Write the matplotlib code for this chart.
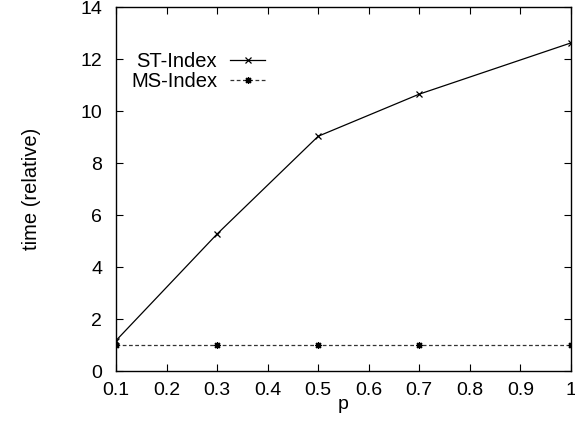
import matplotlib
matplotlib.use("Agg")
import matplotlib.pyplot as plt

p = [0.1, 0.3, 0.5, 0.7, 1.0]
st_index = [1.17, 5.27, 9.03, 10.65, 12.62]
ms_index = [1.0, 1.0, 1.0, 1.0, 1.0]
xticks = [0.1, 0.2, 0.3, 0.4, 0.5, 0.6, 0.7, 0.8, 0.9, 1.0]
xticklabels = ["0.1", "0.2", "0.3", "0.4", "0.5", "0.6", "0.7", "0.8", "0.9", "1"]
yticks = [0, 2, 4, 6, 8, 10, 12, 14]

plt.rcParams['font.family'] = ['Liberation Sans', 'DejaVu Sans']
fig = plt.figure(figsize=(5.75, 4.25), dpi=100)
ax = fig.add_axes([0.2017, 0.127, 0.7913, 0.8565])

ax.plot(p, st_index, color='black', lw=0.9, marker='x', ms=5, mew=0.9, label='ST-Index')
ax.plot(p, ms_index, color='#333333', lw=0.9, ls=(0, (3, 2)), marker=(8, 2, 0), ms=5, mew=0.9,
        mec='black', label='MS-Index')

ax.set_xlim(0.1, 1.0)
ax.set_ylim(0, 14)
ax.set_xticks(xticks)
ax.set_xticklabels(xticklabels)
ax.set_yticks(yticks)
ax.tick_params(direction='in', top=True, right=True, length=5, width=0.8, labelsize=14)
ax.tick_params(axis='x', pad=8)
ax.tick_params(axis='y', pad=10)
for s in ax.spines.values():
    s.set_linewidth(1.0)
ax.set_xlabel('p', fontsize=14, labelpad=-2)
ax.set_ylabel('time (relative)', fontsize=14.5, labelpad=28)

leg = ax.legend(loc='upper left', bbox_to_anchor=(131 / 575, 1 - 52 / 425),
                bbox_transform=fig.transFigure, frameon=False, fontsize=14.5,
                markerfirst=False, handlelength=1.75, handletextpad=0.65, labelspacing=0.05,
                borderaxespad=0, borderpad=0)
for t in leg.get_texts():
    t.set_ha('right')
leg._legend_box.align = 'right'

fig.savefig('out.png', dpi=100)
